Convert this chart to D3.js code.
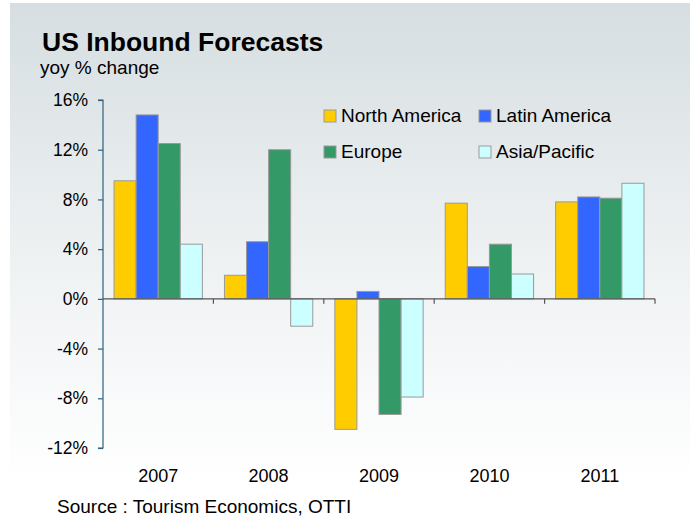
<!DOCTYPE html>
<html>
<head>
<meta charset="utf-8">
<script src="https://cdn.jsdelivr.net/npm/d3@7/dist/d3.min.js"></script>
<style>
  html, body { margin: 0; padding: 0; background: #ffffff; }
  svg { display: block; font-family: "Liberation Sans", Arial, sans-serif; }
</style>
</head>
<body>
<svg id="chart" width="690" height="518"></svg>
<script>
// Forecast years and regional year-over-year % change
const years = ["2007", "2008", "2009", "2010", "2011"];
const regions = ["North America", "Latin America", "Europe", "Asia/Pacific"];
const northAmerica = [9.5, 1.9, -10.5, 7.7, 7.8];
const latinAmerica = [14.8, 4.6, 0.6, 2.6, 8.2];
const europe = [12.5, 12.0, -9.3, 4.4, 8.1];
const asiaPacific = [4.4, -2.2, -7.9, 2.0, 9.3];
const yTicks = [-12, -8, -4, 0, 4, 8, 12, 16];

const seriesValues = [northAmerica, latinAmerica, europe, asiaPacific];
const colors = ["#ffcc00", "#3366ff", "#339966", "#ccffff"];

const svg = d3.select("#chart");

// soft grey-to-white backdrop
const defs = svg.append("defs");
const grad = defs.append("linearGradient")
  .attr("id", "bg").attr("x1", 0).attr("y1", 0).attr("x2", 0).attr("y2", 1);
grad.append("stop").attr("offset", "0%").attr("stop-color", "#d6dee1");
grad.append("stop").attr("offset", "55%").attr("stop-color", "#eff2f3");
grad.append("stop").attr("offset", "100%").attr("stop-color", "#ffffff");
svg.append("rect").attr("x", 10).attr("y", 3).attr("width", 680).attr("height", 480)
  .attr("fill", "url(#bg)");

const plot = { left: 103, right: 655, top: 100, bottom: 448 };

const x = d3.scaleBand().domain(years)
  .range([plot.left, plot.right]).paddingInner(0.2).paddingOuter(0.1);
const xs = d3.scaleBand().domain(regions).range([0, x.bandwidth()]);
const y = d3.scaleLinear().domain([-12, 16]).range([plot.bottom, plot.top]);

// titles
svg.append("text").attr("x", 42).attr("y", 51)
  .attr("font-size", 26.5).attr("font-weight", "bold").attr("fill", "#000")
  .text("US Inbound Forecasts");
svg.append("text").attr("x", 40).attr("y", 73.5)
  .attr("font-size", 19).attr("fill", "#000")
  .text("yoy % change");

// bars
const rows = years.map((yr, i) => ({
  year: yr,
  vals: regions.map((r, j) => ({ region: r, value: seriesValues[j][i], color: colors[j] }))
}));

const groups = svg.append("g").selectAll("g").data(rows).join("g")
  .attr("transform", d => `translate(${x(d.year)},0)`);
groups.selectAll("rect").data(d => d.vals).join("rect")
  .attr("x", d => xs(d.region))
  .attr("width", xs.bandwidth())
  .attr("y", d => y(Math.max(0, d.value)))
  .attr("height", d => Math.abs(y(d.value) - y(0)))
  .attr("fill", d => d.color)
  .attr("stroke", "#9a9a9a")
  .attr("stroke-width", 1);

// y axis
const yAxis = svg.append("g").attr("transform", `translate(${plot.left},0)`)
  .call(d3.axisLeft(y).tickValues(yTicks).tickSize(5).tickPadding(10)
    .tickFormat(d => d + "%"));
yAxis.select(".domain").attr("stroke", "#2f6080").attr("stroke-width", 1.2)
  .attr("d", `M-5,${y(16)}H0V${y(-12)}H-5`);
yAxis.selectAll(".tick line").attr("stroke", "#2f6080").attr("stroke-width", 1.2);
yAxis.selectAll(".tick text").attr("font-size", 17.5).attr("fill", "#000")
  .attr("font-family", "Liberation Sans, Arial, sans-serif");

// x axis along zero with ticks at category boundaries
const bounds = d3.range(years.length + 1).map(i => plot.left + i * (plot.right - plot.left) / years.length);
const xAxis = svg.append("g");
xAxis.append("line")
  .attr("x1", plot.left).attr("x2", plot.right)
  .attr("y1", y(0)).attr("y2", y(0))
  .attr("stroke", "#555").attr("stroke-width", 1.2);
xAxis.selectAll("line.tk").data(bounds.slice(1)).join("line")
  .attr("class", "tk")
  .attr("x1", d => d).attr("x2", d => d)
  .attr("y1", y(0)).attr("y2", y(0) + 5)
  .attr("stroke", "#555").attr("stroke-width", 1.2);

// year labels below the plot
svg.append("g").selectAll("text").data(years).join("text")
  .attr("x", d => x(d) + x.bandwidth() / 2)
  .attr("y", 482)
  .attr("text-anchor", "middle")
  .attr("font-size", 18).attr("fill", "#000")
  .text(d => d);

// legend
const legendPos = [
  { x: 324, y: 110 }, { x: 479, y: 110 },
  { x: 324, y: 146 }, { x: 479, y: 146 }
];
const legend = svg.append("g").selectAll("g").data(regions).join("g")
  .attr("transform", (d, i) => `translate(${legendPos[i].x},${legendPos[i].y})`);
legend.append("rect").attr("width", 12).attr("height", 12)
  .attr("fill", (d, i) => colors[i]).attr("stroke", "#9a9a9a").attr("stroke-width", 1);
legend.append("text").attr("x", 17).attr("y", 12)
  .attr("font-size", 19).attr("fill", "#000")
  .text(d => d);

// source note
svg.append("text").attr("x", 57).attr("y", 513)
  .attr("font-size", 19).attr("fill", "#000")
  .text("Source : Tourism Economics, OTTI");
</script>
</body>
</html>
